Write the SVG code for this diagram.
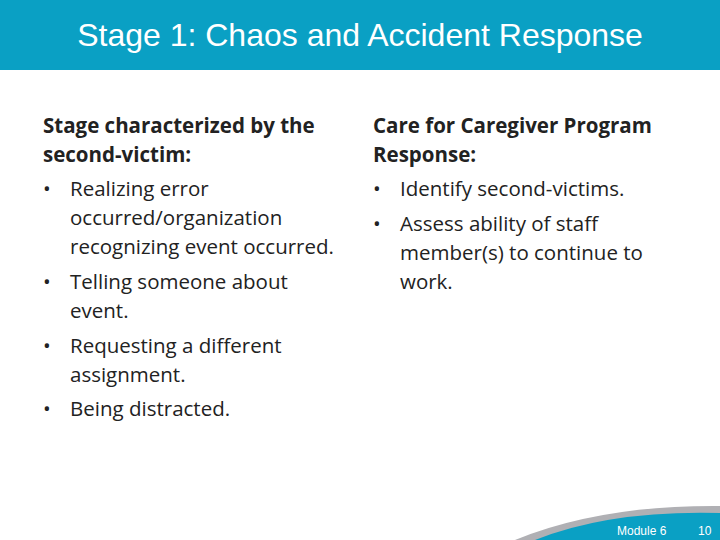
<svg xmlns="http://www.w3.org/2000/svg" width="720" height="540" viewBox="0 0 720 540">
<style>
.b{font-family:"Open Sans","Liberation Sans",sans-serif;font-size:20.5px;fill:#222}
.h{font-weight:bold}
.f{font-family:"Liberation Sans",sans-serif;font-size:12px;fill:#fff}
</style>
<rect width="720" height="540" fill="#fff"/>
<rect width="720" height="70" fill="#0aa0c4"/>
<text x="360" y="46" text-anchor="middle" font-family="Liberation Sans,sans-serif" font-size="32" fill="#fff">Stage 1: Chaos and Accident Response</text>
<g id="left">
<text x="43" y="133" class="b h" font-size="19.5">Stage characterized by the</text>
<text x="43" y="162" class="b h" font-size="19.5">second-victim:</text>
<text x="43" y="196" class="b">•</text><text x="70" y="196" class="b">Realizing error</text>
<text x="70" y="225" class="b">occurred/organization</text>
<text x="70" y="254" class="b">recognizing event occurred.</text>
<text x="43" y="289" class="b">•</text><text x="70" y="289" class="b">Telling someone about</text>
<text x="70" y="318" class="b">event.</text>
<text x="43" y="353" class="b">•</text><text x="70" y="353" class="b">Requesting a different</text>
<text x="70" y="382" class="b">assignment.</text>
<text x="43" y="416" class="b">•</text><text x="70" y="416" class="b">Being distracted.</text>
</g>
<g id="right">
<text x="373" y="133" class="b h" font-size="19.5">Care for Caregiver Program</text>
<text x="373" y="162" class="b h" font-size="19.5">Response:</text>
<text x="373" y="196" class="b">•</text><text x="400" y="196" class="b">Identify second-victims.</text>
<text x="373" y="231" class="b">•</text><text x="400" y="231" class="b">Assess ability of staff</text>
<text x="400" y="260" class="b">member(s) to continue to</text>
<text x="400" y="289" class="b">work.</text>
</g>
<g id="footer">
<path d="M515 540 Q600 505 720 506 L720 540 Z" fill="#b0b0b4"/>
<path d="M535 540 Q610 510 720 513 L720 540 Z" fill="#0aa0c4"/>
<text x="617" y="535" class="f">Module 6</text>
<text x="698" y="535" class="f">10</text>
</g>
</svg>
